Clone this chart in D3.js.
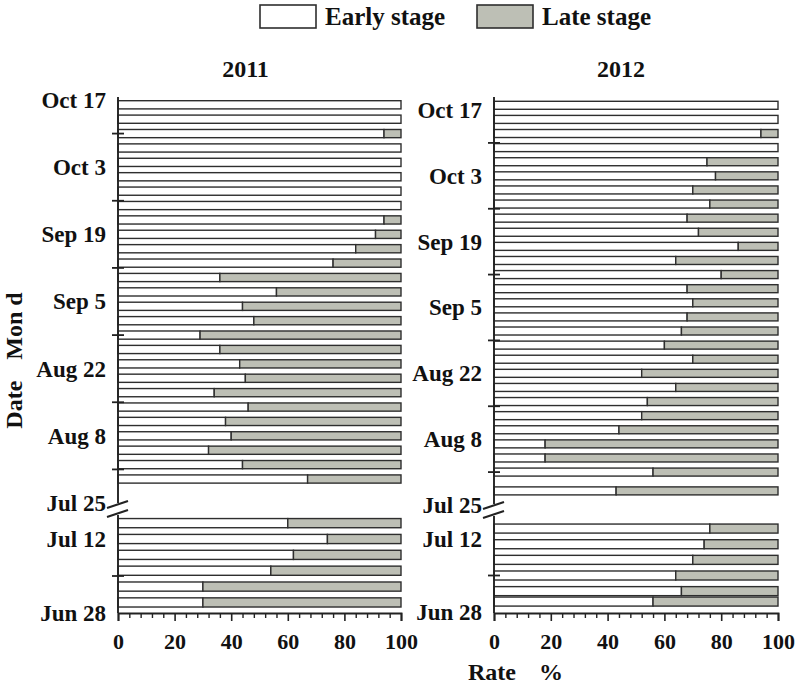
<!DOCTYPE html>
<html><head><meta charset="utf-8">
<script src="https://cdn.jsdelivr.net/npm/d3@7/dist/d3.min.js"></script>
<style>
body{margin:0;background:#fff}
text{font-family:"Liberation Serif","Times New Roman",serif;font-weight:bold;fill:#111}
</style>
</head><body>
<svg id="c" width="800" height="687"></svg>
<script>
// ---------------- data ----------------
const years = ["2011", "2012"];
const stages = ["Early stage", "Late stage"];
const upperLabels = ["Oct 17","Oct 3","Sep 19","Sep 5","Aug 22","Aug 8","Jul 25"];
const upperMinor = ["Oct 10","Sep 26","Sep 12","Aug 29","Aug 15","Aug 1"];
const lowerLabels = ["Jul 12","Jun 28"];
const lowerMinor = ["Jul 5"];
const rateTicks = [0, 20, 40, 60, 80, 100];
const upperDomain = ["Jul 25", "Oct 17"];
const lowerDomain = ["Jun 28", "Jul 12"];

const dates2011Upper = ["Oct 16","Oct 13","Oct 10","Oct 7","Oct 4","Oct 1","Sep 28","Sep 25","Sep 22","Sep 19",
  "Sep 16","Sep 13","Sep 10","Sep 7","Sep 4","Sep 1","Aug 29","Aug 26","Aug 23","Aug 20",
  "Aug 17","Aug 14","Aug 11","Aug 8","Aug 5","Aug 2","Jul 30"];
const early2011Upper = [100,100,94,100,100,100,100,100,94,91,84,76,36,56,44,48,29,36,43,45,34,46,38,40,32,44,67];
const dates2011Lower = ["Jul 15","Jul 12","Jul 9","Jul 6","Jul 3","Jun 30"];
const early2011Lower = [60,74,62,54,30,30];

const dates2012Upper = ["Oct 18","Oct 15","Oct 12","Oct 9","Oct 6","Oct 3","Sep 30","Sep 27","Sep 24","Sep 21",
  "Sep 18","Sep 15","Sep 12","Sep 9","Sep 6","Sep 3","Aug 31","Aug 28","Aug 25","Aug 22",
  "Aug 19","Aug 16","Aug 13","Aug 10","Aug 7","Aug 4","Aug 1","Jul 28"];
const early2012Upper = [100,100,94,100,75,78,70,76,68,72,86,64,80,68,70,68,66,60,70,52,64,54,52,44,18,18,56,43];
const dates2012Lower = ["Jul 14","Jul 11","Jul 8","Jul 5","Jul 2","Jun 30"];
const early2012Lower = [76,74,70,64,66,56];

// ---------------- layout ----------------
const svg = d3.select("#c");
const gray = "#bdbfb5", edge = "#2e2e2e";
const fmt = d3.timeFormat("%b %-d");

const panels = [
  {year: years[0], x: [118, 401], up: [503, 100], low: [613, 539], top: 97, bottom: 613, brk: 504.5, titleX: 245.5,
   upDates: dates2011Upper, upVals: early2011Upper, lowDates: dates2011Lower, lowVals: early2011Lower},
  {year: years[1], x: [494, 778], up: [505, 110], low: [612, 539], top: 97, bottom: 613, brk: 505.5, titleX: 621,
   upDates: dates2012Upper, upVals: early2012Upper, lowDates: dates2012Lower, lowVals: early2012Lower}
];

// legend
const legX = [260, 477];
stages.forEach((s, i) => {
  svg.append("rect").attr("x", legX[i]).attr("y", 5).attr("width", 56).attr("height", 23)
    .attr("fill", i === 0 ? "#fff" : gray).attr("stroke", edge).attr("stroke-width", 1.6);
  svg.append("text").attr("x", legX[i] + 65).attr("y", 25).attr("font-size", 25).text(s);
});

panels.forEach(p => {
  const parse = s => d3.timeParse("%b %d %Y")(s + " " + p.year);
  const x = d3.scaleLinear().domain([0, 100]).range(p.x);
  const yU = d3.scaleTime().domain(upperDomain.map(parse)).range(p.up);
  const yL = d3.scaleTime().domain(lowerDomain.map(parse)).range(p.low);
  const g = svg.append("g");

  // title
  g.append("text").attr("x", p.titleX).attr("y", 77).attr("text-anchor", "middle")
    .attr("font-size", 24).text(p.year);

  // bars
  const drawBars = (dates, vals, y) => {
    const sw = 1.4;
    dates.forEach((ds, i) => {
      const d = parse(ds);
      const t = Math.abs(y(d) - y(d3.timeDay.offset(d, 2)));
      const cy = y(d);
      const v = vals[i];
      g.append("rect").attr("x", x(0)).attr("y", cy - t / 2 + sw / 2)
        .attr("width", x(v) - x(0)).attr("height", t - sw)
        .attr("fill", "#fff").attr("stroke", edge).attr("stroke-width", sw);
      if (v < 100) {
        g.append("rect").attr("x", x(v)).attr("y", cy - t / 2 + sw / 2)
          .attr("width", x(100) - x(v)).attr("height", t - sw)
          .attr("fill", gray).attr("stroke", edge).attr("stroke-width", sw);
      }
    });
  };
  drawBars(p.upDates, p.upVals, yU);
  drawBars(p.lowDates, p.lowVals, yL);

  // y axis labels
  const labAxis = (y, labels) => {
    const a = g.append("g").attr("transform", `translate(${x(0)},0)`)
      .call(d3.axisLeft(y).tickValues(labels.map(parse)).tickFormat(fmt).tickSize(0).tickPadding(12));
    a.select(".domain").remove();
    a.selectAll("text").attr("font-size", 23).attr("font-family", null).attr("fill", "#111");
  };
  labAxis(yU, upperLabels);
  labAxis(yL, lowerLabels);

  // minor ticks crossing the axis
  const minor = (y, list) => list.forEach(ds => {
    g.append("line").attr("x1", x(0) - 6).attr("x2", x(0) + 6)
      .attr("y1", y(parse(ds))).attr("y2", y(parse(ds)))
      .attr("stroke", "#222").attr("stroke-width", 1.8);
  });
  minor(yU, upperMinor);
  minor(yL, lowerMinor);

  // y axis line with break
  g.append("line").attr("x1", x(0)).attr("x2", x(0)).attr("y1", p.top).attr("y2", p.brk - 1.5)
    .attr("stroke", "#222").attr("stroke-width", 1.9);
  g.append("line").attr("x1", x(0)).attr("x2", x(0)).attr("y1", p.brk + 10.5).attr("y2", p.bottom)
    .attr("stroke", "#222").attr("stroke-width", 1.9);
  [0, 9].forEach(o => {
    g.append("line").attr("x1", x(0) - 11).attr("x2", x(0) + 10)
      .attr("y1", p.brk + o + 3.5).attr("y2", p.brk + o - 3.5)
      .attr("stroke", "#222").attr("stroke-width", 1.9);
  });

  // x axis
  const xa = g.append("g").attr("transform", `translate(0,${p.bottom})`)
    .call(d3.axisBottom(x).tickValues(rateTicks).tickSize(8).tickPadding(12));
  xa.select(".domain").attr("stroke", "#222").attr("stroke-width", 1.9);
  xa.selectAll(".tick line").attr("stroke", "#222").attr("stroke-width", 1.6);
  xa.selectAll("text").attr("font-size", 22).attr("font-family", null).attr("fill", "#111");
  const minorX = d3.range(0, 101, 4).filter(v => v % 20 !== 0);
  const xm = g.append("g").attr("transform", `translate(0,${p.bottom})`)
    .call(d3.axisBottom(x).tickValues(minorX).tickSize(5).tickFormat(""));
  xm.select(".domain").remove();
  xm.selectAll(".tick line").attr("stroke", "#222").attr("stroke-width", 1.4);
});

// axis titles
const yt = svg.append("text").attr("transform", "translate(22,360.5) rotate(-90)")
  .attr("text-anchor", "middle").attr("font-size", 24);
yt.append("tspan").text("Date");
yt.append("tspan").attr("dx", 21).text("Mon d");

const xt = svg.append("text").attr("x", 515.5).attr("y", 680).attr("text-anchor", "middle").attr("font-size", 24);
xt.append("tspan").text("Rate");
xt.append("tspan").attr("dx", 23).text("%");
</script>
</body></html>
